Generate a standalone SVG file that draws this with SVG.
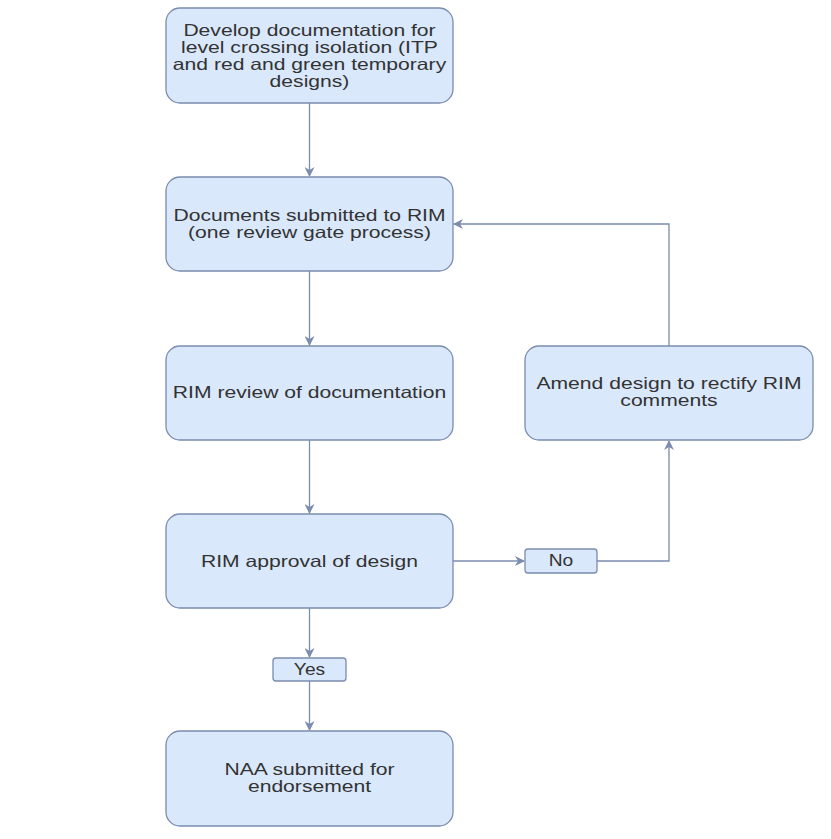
<svg xmlns="http://www.w3.org/2000/svg" width="831" height="839" viewBox="0 0 831 839">
<style>
.box{fill:#dae8fc;stroke:#7b8cae;stroke-width:1.3}
.t{font-family:"Liberation Sans",Arial,sans-serif;font-size:16.5px;fill:#333;text-anchor:middle}
.lt{font-family:"Liberation Sans",Arial,sans-serif;font-size:16px;fill:#333;text-anchor:middle}
.c{fill:none;stroke:#7b8cae;stroke-width:1.3}
</style>
<defs>
<marker id="ah" viewBox="0 0 10 10" refX="9" refY="5" markerWidth="10" markerHeight="10" markerUnits="userSpaceOnUse" orient="auto">
<path d="M0,0 L10,5 L0,10 L3,5 Z" fill="#7b8cae"/>
</marker>
</defs>
<rect width="831" height="839" fill="#fff"/>
<g id="connectors">
<path class="c" d="M309.5,103 V176" marker-end="url(#ah)"/>
<path class="c" d="M309.5,271 V345" marker-end="url(#ah)"/>
<path class="c" d="M309.5,440 V513" marker-end="url(#ah)"/>
<path class="c" d="M309.5,608 V657" marker-end="url(#ah)"/>
<path class="c" d="M309.5,681 V730" marker-end="url(#ah)"/>
<path class="c" d="M453,561 H524" marker-end="url(#ah)"/>
<path class="c" d="M597,561 H669 V441" marker-end="url(#ah)"/>
<path class="c" d="M669,346 V224 H454" marker-end="url(#ah)"/>
</g>
<g id="n1">
<rect class="box" x="166" y="8" width="287" height="95" rx="14"/>
<g transform="translate(309.5,0) scale(1.28,1)">
<text class="t" x="0" y="36.5">Develop documentation for</text>
<text class="t" x="0" y="53.5">level crossing isolation (ITP</text>
<text class="t" x="0" y="70.5">and red and green temporary</text>
<text class="t" x="0" y="87.5">designs)</text>
</g>
</g>
<g id="n2">
<rect class="box" x="166" y="177" width="287" height="94" rx="14"/>
<g transform="translate(309.5,0) scale(1.28,1)">
<text class="t" x="0" y="221">Documents submitted to RIM</text>
<text class="t" x="0" y="238">(one review gate process)</text>
</g>
</g>
<g id="n3">
<rect class="box" x="166" y="346" width="287" height="94" rx="14"/>
<g transform="translate(309.5,0) scale(1.28,1)">
<text class="t" x="0" y="398">RIM review of documentation</text>
</g>
</g>
<g id="n4">
<rect class="box" x="166" y="514" width="287" height="94" rx="14"/>
<g transform="translate(309.5,0) scale(1.28,1)">
<text class="t" x="0" y="567">RIM approval of design</text>
</g>
</g>
<g id="n5">
<rect class="box" x="166" y="731" width="287" height="95" rx="14"/>
<g transform="translate(309.5,0) scale(1.28,1)">
<text class="t" x="0" y="775.5">NAA submitted for</text>
<text class="t" x="0" y="792.5">endorsement</text>
</g>
</g>
<g id="n6">
<rect class="box" x="525" y="346" width="288" height="94" rx="14"/>
<g transform="translate(669,0) scale(1.28,1)">
<text class="t" x="0" y="389.5">Amend design to rectify RIM</text>
<text class="t" x="0" y="406.5">comments</text>
</g>
</g>
<g id="no">
<rect class="box" x="525" y="549" width="72" height="24" rx="3"/>
<g transform="translate(561,0) scale(1.2,1)">
<text class="lt" x="0" y="566.5">No</text>
</g>
</g>
<g id="yes">
<rect class="box" x="273" y="658" width="73" height="23" rx="3"/>
<g transform="translate(309.5,0) scale(1.2,1)">
<text class="lt" x="0" y="675">Yes</text>
</g>
</g>
</svg>
